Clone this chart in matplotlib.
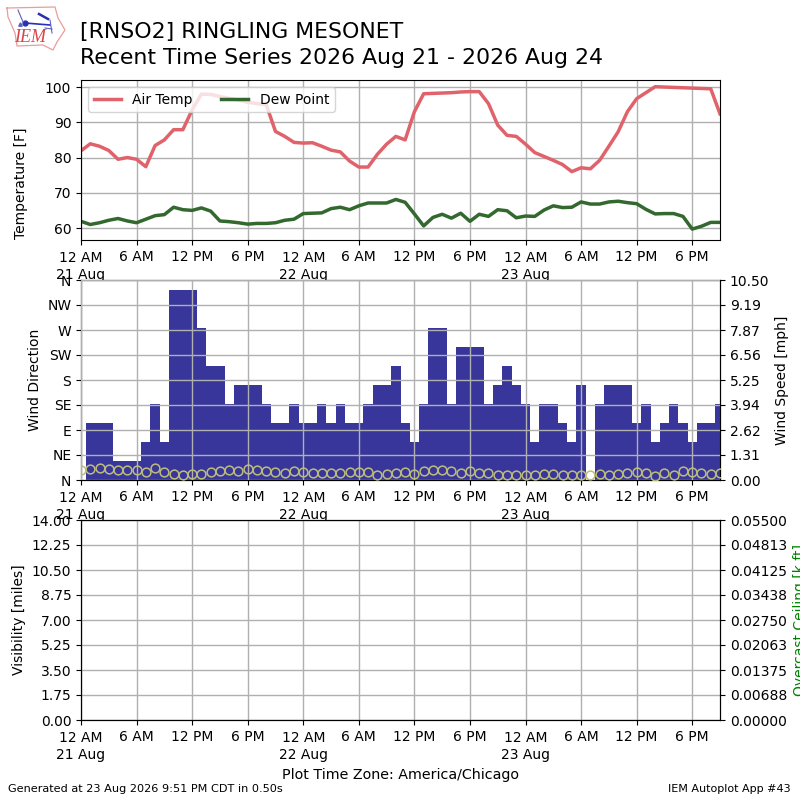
import pandas as pd
import matplotlib
matplotlib.use('Agg')
import matplotlib.pyplot as plt
from matplotlib.transforms import ScaledTranslation

# hourly obs from 21 Aug 00:00 local
air_temp = [81.9, 83.9, 83.2, 82.0, 79.5, 80.0, 79.5, 77.4, 83.4, 85.0, 87.9, 87.9, 93.5, 98.0,
            97.9, 97.3, 96.8, 96.3, 95.7, 95.3, 95.0, 87.4, 86.0, 84.3, 84.1, 84.2, 83.2, 82.1,
            81.6, 79.0, 77.3, 77.3, 80.9, 83.8, 86.0, 85.0, 93.0, 98.1, 98.2, 98.3, 98.4, 98.6,
            98.7, 98.7, 95.3, 89.2, 86.3, 86.0, 83.8, 81.4, 80.3, 79.2, 78.0, 76.0, 77.1, 76.8,
            79.2, 83.2, 87.3, 93.0, 96.7, 98.4, 100.1, 100.0, 99.9, 99.8, 99.7, 99.6, 99.5, 92.4]
dew_point = [61.9, 61.0, 61.5, 62.2, 62.7, 62.0, 61.5, 62.5, 63.5, 63.8, 65.9, 65.2, 65.0, 65.7,
             64.8, 62.0, 61.8, 61.5, 61.1, 61.3, 61.3, 61.5, 62.2, 62.5, 64.1, 64.2, 64.3, 65.5,
             65.9, 65.2, 66.3, 67.1, 67.1, 67.1, 68.1, 67.3, 64.0, 60.6, 63.0, 63.9, 62.8, 64.2,
             61.9, 63.9, 63.3, 65.2, 64.9, 62.9, 63.4, 63.3, 65.1, 66.3, 65.8, 65.9, 67.4, 66.8,
             66.8, 67.4, 67.6, 67.2, 66.9, 65.3, 64.0, 64.1, 64.1, 63.3, 59.7, 60.5, 61.6, 61.6]
wind_bars = [0, 3, 3, 3, 1, 1, 1, 2, 4, 2, 10, 10, 10, 8, 6, 6, 4, 5, 5, 5, 4, 3, 3, 4, 3, 3, 4, 3,
             4, 3, 3, 4, 5, 5, 6, 3, 2, 4, 8, 8, 4, 7, 7, 7, 4, 5, 6, 5, 4, 2, 4, 4, 3, 2, 5, 0,
             4, 5, 5, 5, 3, 4, 2, 3, 4, 3, 2, 3, 3, 4]
wind_circles = [.51, .58, .61, .60, .52, .51, .52, .40, .61, .40, .30, .28, .30, .33, .40, .49, .51, .45,
                .56, .52, .45, .40, .37, .45, .40, .37, .35, .35, .39, .42, .40, .44, .25, .31, .35, .42,
                .33, .46, .51, .51, .46, .37, .46, .39, .35, .28, .26, .28, .25, .26, .33, .32, .26, .26,
                .26, .28, .30, .28, .30, .37, .42, .35, .19, .37, .28, .46, .42, .35, .32, .35]

times = pd.date_range('2026-08-21 00:00', periods=70, freq='h')
tick_times = pd.date_range('2026-08-21 00:00', periods=12, freq='6h')
tick_labels = ['12 AM\n21 Aug', '6 AM', '12 PM', '6 PM', '12 AM\n22 Aug', '6 AM', '12 PM', '6 PM',
               '12 AM\n23 Aug', '6 AM', '12 PM', '6 PM']
dir_labels = ['N', 'NE', 'E', 'SE', 'S', 'SW', 'W', 'NW', 'N']
speed_ticks = [0, 1.3125, 2.625, 3.9375, 5.25, 6.5625, 7.875, 9.1875, 10.5]
speed_labels = ['0.00', '1.31', '2.62', '3.94', '5.25', '6.56', '7.87', '9.19', '10.50']
vis_ticks = [0, 1.75, 3.5, 5.25, 7, 8.75, 10.5, 12.25, 14]
ceil_ticks = [0, 0.006875, 0.01375, 0.020625, 0.0275, 0.034375, 0.04125, 0.048125, 0.055]
ceil_labels = ['0.00000', '0.00688', '0.01375', '0.02063', '0.02750', '0.03438', '0.04125', '0.04813', '0.05500']

fig = plt.figure(figsize=(8, 8), dpi=100)
ax1 = fig.add_axes([81 / 800, 560 / 800, 639 / 800, 160 / 800])
ax2 = fig.add_axes([81 / 800, 320 / 800, 639 / 800, 200 / 800])
ax3 = fig.add_axes([81 / 800, 80 / 800, 639 / 800, 200 / 800])

# midnight labels sit a hair lower than the others
nudge = ScaledTranslation(0, -1.7 / 100, fig.dpi_scale_trans)
for ax in (ax1, ax2, ax3):
    ax.set_xlim(times[0], times[-1])
    ax.set_xticks(tick_times)
    ax.set_xticklabels(tick_labels)
    for lbl in ax.get_xticklabels()[::4]:
        lbl.set_transform(lbl.get_transform() + nudge)

# temps
ax1.plot(times, air_temp, color='#e0636c', lw=2.5, label='Air Temp')
ax1.plot(times, dew_point, color='#33692f', lw=2.5, label='Dew Point')
ax1.set_ylim(56.6, 102)
ax1.set_yticks([60, 70, 80, 90, 100])
ax1.set_ylabel('Temperature [F]')
ax1.yaxis.set_label_coords(-53 / 639, 57 / 160)
ax1.grid(True, lw=1.0)
ax1.legend(loc='upper left', ncol=2, bbox_to_anchor=(0, 1))

# wind, bars and grid live on the right hand axis
ax2.set_ylim(0, 360)
ax2.set_yticks(range(0, 361, 45))
ax2.set_yticklabels(dir_labels)
ax2.set_ylabel('Wind Direction')
ax2r = ax2.twinx()
ax2r.bar(times, wind_bars, width=1 / 24, color='#38369a', zorder=2)
ax2r.plot(times, wind_circles, ls='none', marker='o', ms=6.3, mfc='none', mec='#bdbd78', mew=1.1, zorder=4)
ax2r.set_ylim(0, 10.5)
ax2r.set_yticks(speed_ticks)
ax2r.set_yticklabels(speed_labels)
ax2r.set_ylabel('Wind Speed [mph]')
ax2r.set_xlim(times[0], times[-1])
ax2r.grid(True, axis='y', lw=1.0, zorder=3)
ax2r.set_axisbelow(False)
for t in tick_times:
    ax2r.axvline(t, color='#b0b0b0', lw=1.0, zorder=3)

# no vis or ceiling obs for this station
ax3.set_ylim(0, 14)
ax3.set_yticks(vis_ticks)
ax3.set_yticklabels(['%.2f' % v for v in vis_ticks])
ax3.set_ylabel('Visibility [miles]')
ax3.grid(True, lw=1.0)
ax3r = ax3.twinx()
ax3r.set_ylim(0, 0.055)
ax3r.set_yticks(ceil_ticks)
ax3r.set_yticklabels(ceil_labels)
ax3r.set_ylabel('Overcast Ceiling [k ft]', color='green')

fig.text(80 / 800, 1 - 38 / 800, '[RNSO2] RINGLING MESONET', fontsize=15.8, va='baseline')
fig.text(80 / 800, 1 - 64.5 / 800, 'Recent Time Series 2026 Aug 21 - 2026 Aug 24', fontsize=15.8, va='baseline')
fig.text(0.5, 1 - 775 / 800, 'Plot Time Zone: America/Chicago', fontsize=10.3, ha='center', va='center')
fig.text(8 / 800, 1 - 789 / 800, 'Generated at 23 Aug 2026 9:51 PM CDT in 0.50s', fontsize=8.1, va='center')
fig.text(791 / 800, 1 - 789 / 800, 'IEM Autoplot App #43', fontsize=8, ha='right', va='center')

# rough IEM logo, px coords
logo = fig.add_axes([0, 730 / 800, 75 / 800, 70 / 800])
logo.set_xlim(0, 75)
logo.set_ylim(70, 0)
logo.axis('off')
logo.plot([7, 55, 58, 65, 57, 53, 43, 17, 15, 8, 7], [8, 7, 18, 30, 42, 50, 45, 46, 33, 17, 8],
          color='#eb9c9c', lw=0.9)
logo.plot([25, 50], [23, 25], color='#2a30b0', lw=1.2)
logo.plot([25], [23], marker='o', ms=3.5, color='#2a30b0')
logo.plot([18, 23], [10, 22], color='#5a60c0', lw=0.8)
logo.plot([39, 48], [14, 19], color='#2a30b0', lw=1.8)
logo.plot([50, 52], [20, 33], color='#5a60c0', lw=0.8)
logo.plot([45, 52], [28, 29], color='#5a60c0', lw=0.8)
logo.plot([20], [24], marker='^', ms=2.5, color='#5a60c0')
logo.text(30, 38, 'IEM', family='Liberation Serif', style='italic', fontsize=13, color='#d9444a',
          ha='center', va='center')

fig.savefig('out.png', dpi=100)
